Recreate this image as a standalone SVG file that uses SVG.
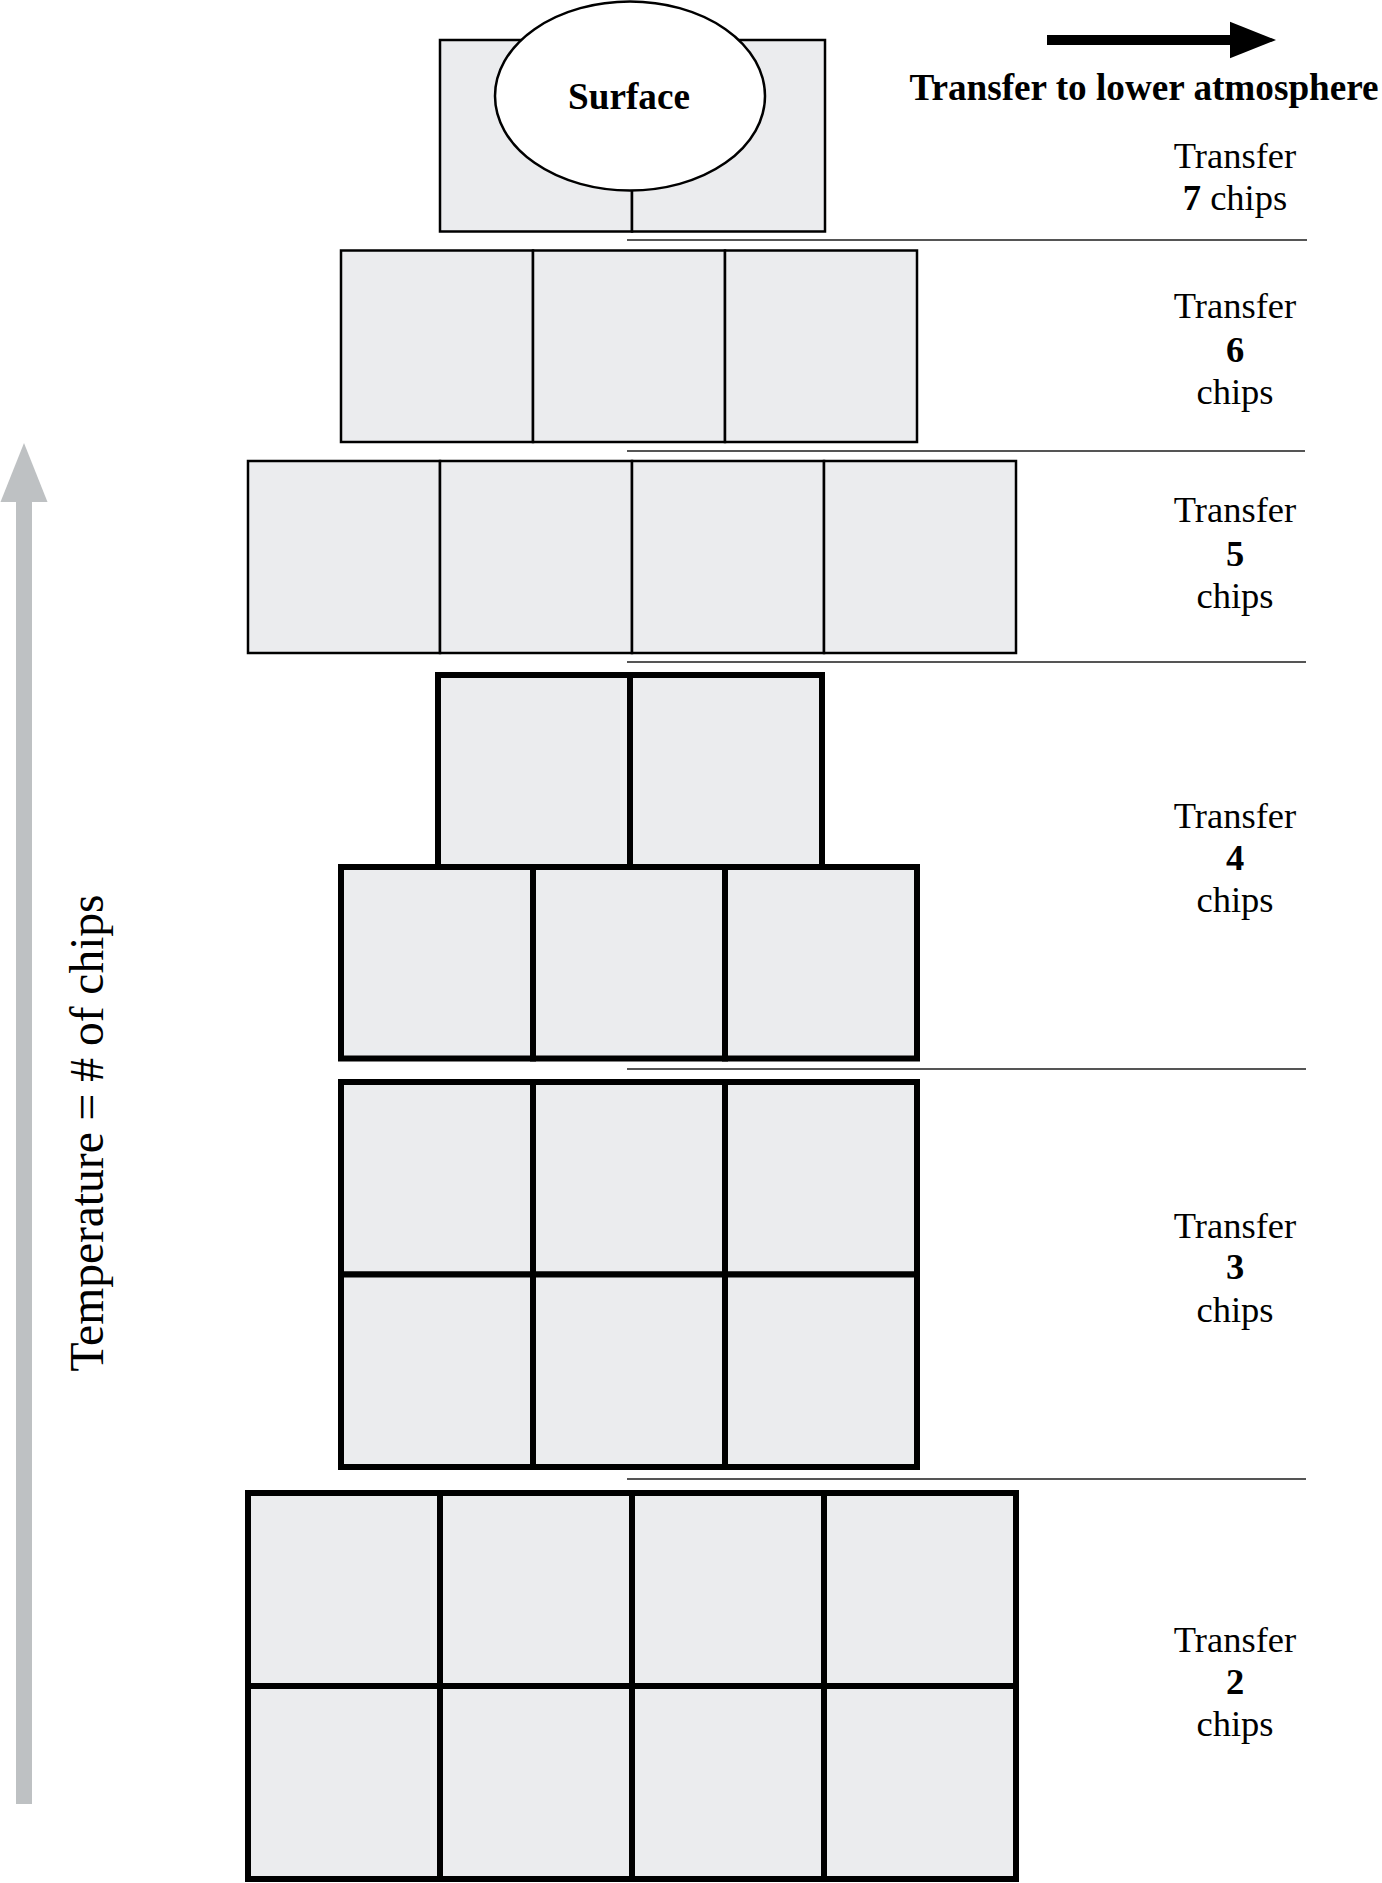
<svg xmlns="http://www.w3.org/2000/svg" width="1382" height="1883" viewBox="0 0 1382 1883">
<style>
  .thin { fill: #ebecee; stroke: #000; stroke-width: 2.5; }
  .thick { fill: #ebecee; stroke: #000; stroke-width: 6; }
  .sep { stroke: #555; stroke-width: 2; fill: none; }
  .lbl { font-family: "Liberation Serif", "Times New Roman", serif; font-size: 36.5px; fill: #000; text-anchor: middle; }
  .b { font-weight: bold; }
  .hd { font-size: 37.2px; }
</style>
<rect width="1382" height="1883" fill="#fff"/>

<g id="temperature-axis">
  <rect x="16" y="500" width="16" height="1304" fill="#bec1c3"/>
  <polygon points="0.5,502 24,443 47.5,502" fill="#bec1c3"/>
  <text class="lbl" style="font-size:47.5px" transform="translate(103,1133) rotate(-90)">Temperature = # of chips</text>
</g>

<g id="transfer-arrow">
  <rect x="1047" y="35" width="185" height="10" fill="#000"/>
  <polygon points="1230,21.7 1276,40 1230,58.3" fill="#000"/>
  <text class="lbl b hd" x="1144" y="100">Transfer to lower atmosphere</text>
</g>

<g id="connectors">
  <line class="sep" x1="627" y1="240" x2="1307" y2="240"/>
  <line class="sep" x1="627" y1="451" x2="1305" y2="451"/>
  <line class="sep" x1="627" y1="662" x2="1306" y2="662"/>
  <line class="sep" x1="627" y1="1069" x2="1306" y2="1069"/>
  <line class="sep" x1="627" y1="1479" x2="1306" y2="1479"/>
</g>

<g id="surface-row">
  <rect class="thin" x="440" y="40" width="192" height="191.5"/>
  <rect class="thin" x="632" y="40" width="193" height="191.5"/>
</g>
<g id="surface">
  <ellipse cx="630" cy="96" rx="135" ry="94.5" fill="#fff" stroke="#000" stroke-width="2.5"/>
  <text class="lbl b hd" x="629" y="109">Surface</text>
</g>

<g id="row-6">
  <rect class="thin" x="341" y="250.5" width="192" height="191.5"/>
  <rect class="thin" x="533" y="250.5" width="192" height="191.5"/>
  <rect class="thin" x="725" y="250.5" width="192" height="191.5"/>
</g>

<g id="row-5">
  <rect class="thin" x="248" y="461" width="192" height="192"/>
  <rect class="thin" x="440" y="461" width="192" height="192"/>
  <rect class="thin" x="632" y="461" width="192" height="192"/>
  <rect class="thin" x="824" y="461" width="192" height="192"/>
</g>

<g id="row-4">
  <rect class="thick" x="438" y="675" width="192" height="192"/>
  <rect class="thick" x="630" y="675" width="192" height="192"/>
  <rect class="thick" x="341" y="867" width="192" height="191.5"/>
  <rect class="thick" x="533" y="867" width="192" height="191.5"/>
  <rect class="thick" x="725" y="867" width="192" height="191.5"/>
</g>

<g id="row-3">
  <rect class="thick" x="341" y="1082" width="192" height="192.5"/>
  <rect class="thick" x="533" y="1082" width="192" height="192.5"/>
  <rect class="thick" x="725" y="1082" width="192" height="192.5"/>
  <rect class="thick" x="341" y="1274.5" width="192" height="192.5"/>
  <rect class="thick" x="533" y="1274.5" width="192" height="192.5"/>
  <rect class="thick" x="725" y="1274.5" width="192" height="192.5"/>
</g>

<g id="row-2">
  <rect class="thick" x="248" y="1493" width="192" height="193"/>
  <rect class="thick" x="440" y="1493" width="192" height="193"/>
  <rect class="thick" x="632" y="1493" width="192" height="193"/>
  <rect class="thick" x="824" y="1493" width="192" height="193"/>
  <rect class="thick" x="248" y="1686" width="192" height="193"/>
  <rect class="thick" x="440" y="1686" width="192" height="193"/>
  <rect class="thick" x="632" y="1686" width="192" height="193"/>
  <rect class="thick" x="824" y="1686" width="192" height="193"/>
</g>

<g id="label-7">
  <text class="lbl" x="1235" y="168">Transfer</text>
  <text class="lbl" x="1235" y="210"><tspan class="b">7</tspan> chips</text>
</g>
<g id="label-6">
  <text class="lbl" x="1235" y="318">Transfer</text>
  <text class="lbl b" x="1235" y="362">6</text>
  <text class="lbl" x="1235" y="404">chips</text>
</g>
<g id="label-5">
  <text class="lbl" x="1235" y="522">Transfer</text>
  <text class="lbl b" x="1235" y="566">5</text>
  <text class="lbl" x="1235" y="608">chips</text>
</g>
<g id="label-4">
  <text class="lbl" x="1235" y="828">Transfer</text>
  <text class="lbl b" x="1235" y="870">4</text>
  <text class="lbl" x="1235" y="912">chips</text>
</g>
<g id="label-3">
  <text class="lbl" x="1235" y="1238">Transfer</text>
  <text class="lbl b" x="1235" y="1279">3</text>
  <text class="lbl" x="1235" y="1322">chips</text>
</g>
<g id="label-2">
  <text class="lbl" x="1235" y="1652">Transfer</text>
  <text class="lbl b" x="1235" y="1694">2</text>
  <text class="lbl" x="1235" y="1736">chips</text>
</g>
</svg>
